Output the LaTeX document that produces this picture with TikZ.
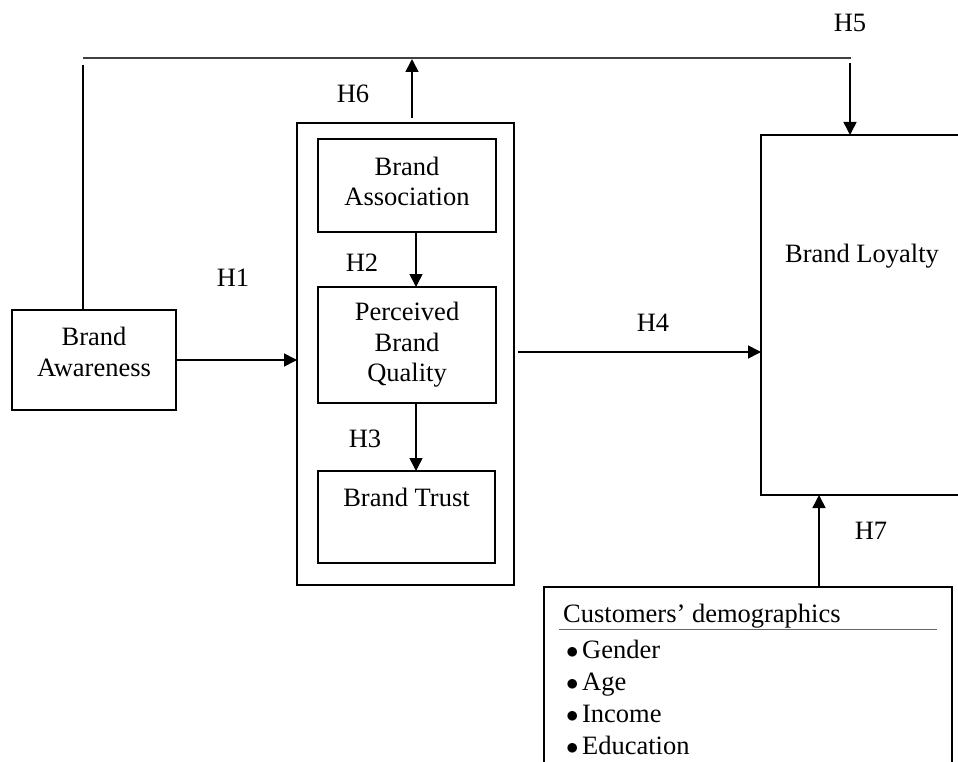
\documentclass[tikz,border=0pt]{standalone}
\usepackage{fontspec}
\setmainfont{Liberation Serif}
\usetikzlibrary{arrows.meta}
\begin{document}
\begin{tikzpicture}[x=1pt,y=-1pt,
  box/.style={draw, line width=1.6pt, rectangle, inner sep=0pt, outer sep=0pt},
  txt/.style={inner sep=0pt, align=center, font=\fontsize{26.5}{30.5}\selectfont},
  lbl/.style={inner sep=0pt, anchor=base, font=\fontsize{26.5}{30.5}\selectfont},
  item/.style={inner sep=0pt, anchor=base west, font=\fontsize{26.5}{30.5}\selectfont},
  conn/.style={line width=1.6pt},
  arr/.style={line width=1.6pt, -{Triangle[length=13pt,width=13pt]}},
]
\useasboundingbox (0,0) rectangle (958,762);

% boxes
\node[box, minimum width=164pt, minimum height=100pt] (ba) at (94,360) {};
\node[txt] (bat) at (94,352) {Brand\\Awareness};
\node[box, minimum width=217pt, minimum height=462pt] (outer) at (405.5,354) {};
\node[box, minimum width=178pt, minimum height=93pt] (assoc) at (407,185.5) {};
\node[txt] (assoct) at (407,181.5) {Brand\\Association};
\node[box, minimum width=178pt, minimum height=116pt] (pbq) at (407,345) {};
\node[txt] (pbqt) at (407,345) {Perceived\\Brand\\Quality};
\node[box, minimum width=177pt, minimum height=92pt] (trust) at (406.5,517) {};
\node[lbl] (trustt) at (406.5,506) {Brand Trust};
\node[box, minimum width=240pt, minimum height=360pt] (loy) at (881,315) {};
\node[lbl] (loyt) at (862,262) {Brand Loyalty};
\node[box, minimum width=408pt, minimum height=220pt] (demo) at (748,697) {};

% demographics content
\node[item] (dtitle) at (563,622) {Customers’ demographics};
\coordinate (ul1) at (559,629);
\coordinate (ul2) at (937,629);
\draw[line width=1pt, draw=black!60] (ul1) -- (ul2);
\node[item] (d1) at (566,658) {$\bullet$\hspace{3.5pt}Gender};
\node[item] (d2) at (566,690) {$\bullet$\hspace{3.5pt}Age};
\node[item] (d3) at (566,722) {$\bullet$\hspace{3.5pt}Income};
\node[item] (d4) at (566,754) {$\bullet$\hspace{3.5pt}Education};

% hypothesis labels
\node[lbl] (h1) at (233,286) {H1};
\node[lbl] (h2) at (362,271) {H2};
\node[lbl] (h3) at (365,447) {H3};
\node[lbl] (h4) at (653,331) {H4};
\node[lbl] (h5) at (850,32) {H5};
\node[lbl] (h6) at (353,103) {H6};
\node[lbl] (h7) at (871,539) {H7};

% connectors
\coordinate (tl) at (83,58);
\coordinate (tr) at (851,58);
\draw[conn, draw=black!75] (tl) -- (tr);
\coordinate (lv) at (83,65);
\draw[conn] (lv) -- (lv |- ba.north);
\coordinate (rv) at (850,63);
\draw[arr] (rv) -- (rv |- loy.north);
\coordinate (h6s) at (412,118);
\coordinate (h6e) at (412,59);
\draw[arr] (h6s) -- (h6e);
\draw[arr] (ba.east) -- (ba.east -| outer.west);
\coordinate (cx) at (416,0);
\draw[arr] (assoc.south -| cx) -- (pbq.north -| cx);
\draw[arr] (pbq.south -| cx) -- (trust.north -| cx);
\coordinate (h4s) at (518,352);
\draw[arr] (h4s) -- (loy.west |- h4s);
\coordinate (c7) at (819,0);
\draw[arr] (demo.north -| c7) -- (loy.south -| c7);
\end{tikzpicture}
\end{document}
